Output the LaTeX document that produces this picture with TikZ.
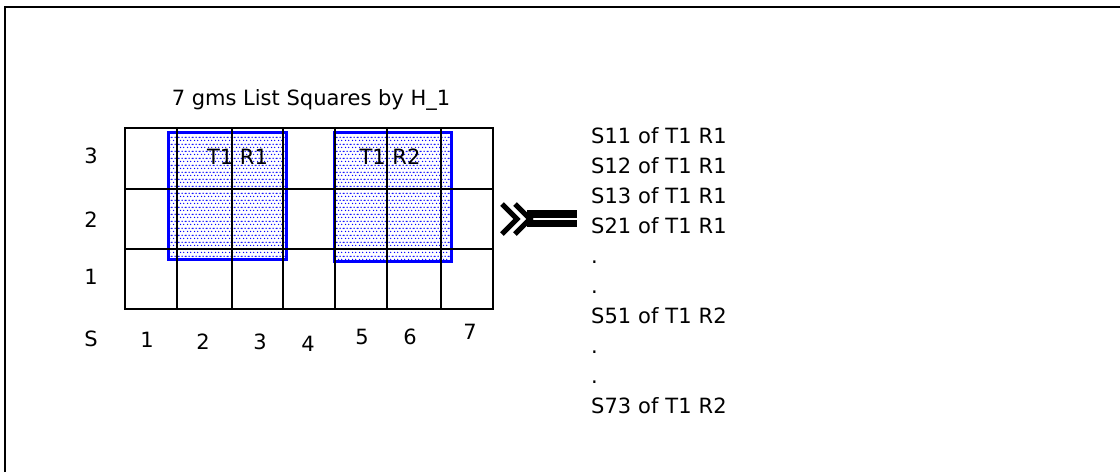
\documentclass[tikz,border=0pt]{standalone}
\usepackage{fontspec}
\setmainfont{DejaVu Sans}
\usetikzlibrary{patterns,positioning}

\pgfdeclarepatternformonly{tiledots}{\pgfpointorigin}{\pgfpoint{6.6pt}{6.6pt}}{\pgfpoint{6.6pt}{6.6pt}}{%
	\pgfpathcircle{\pgfpoint{1.65pt}{1.65pt}}{0.75pt}
	\pgfpathcircle{\pgfpoint{4.95pt}{1.65pt}}{0.75pt}
	\pgfpathcircle{\pgfpoint{0pt}{4.95pt}}{0.75pt}
	\pgfpathcircle{\pgfpoint{3.3pt}{4.95pt}}{0.75pt}
	\pgfpathcircle{\pgfpoint{6.6pt}{4.95pt}}{0.75pt}
	\pgfusepath{fill}}

\begin{document}
\begin{tikzpicture}[x=1pt,y=-1pt,node distance=8.6pt,
		lbl/.style={font=\fontsize{21}{25}\selectfont,inner sep=0pt},
		item/.style={lbl,text width=140pt,align=left,text height=16pt,text depth=5pt},
		tile/.style={draw=blue,line width=3pt,pattern=tiledots,pattern color=blue,inner sep=0pt},
		gridline/.style={line width=1.6pt}]
			\useasboundingbox (0,0) rectangle (1120,472);
			\draw[line width=2pt] (4.5,472) -- (4.5,6.5) -- (1120,6.5);
			% title and the two blocks
			\node[lbl,anchor=base] (title) at (311,105) {7 gms List Squares by H\_1};
			\node[tile,minimum width=118pt,minimum height=127pt] (blk1) at (227,195.5) {};
			\node[tile,minimum width=117pt,minimum height=129pt] (blk2) at (392.5,196.5) {};
			% 7 x 3 grid
			\draw[gridline] (125,128) rectangle (493,309);
			\foreach \x in {177,232,283,335,387,441}
				\draw[gridline] (\x,128) -- (\x,309);
			\foreach \y in {189,249}
				\draw[gridline] (125,\y) -- (493,\y);
			\node[lbl,anchor=base] (t1r1) at (237.5,164.5) {T1 R1};
			\node[lbl,anchor=base] (t1r2) at (390,164.5) {T1 R2};
			% axis labels
			\node[lbl,anchor=base] (row3) at (91,163.5) {3};
			\node[lbl,anchor=base] (row2) at (91,227.5) {2};
			\node[lbl,anchor=base] (row1) at (91,284) {1};
			\node[lbl,anchor=base] (slbl) at (91,346) {S};
			\foreach \x/\y/\n in {147/347.5/1,203/349/2,260/349/3,308/351/4,362/344/5,410/344/6,470/339/7}
				\node[lbl,anchor=base] (col\n) at (\x,\y) {\n};
			% arrow
			\coordinate (arr) at (503,219);
			\draw[line width=5pt] (502,204) -- (517,219) -- (502,234);
			\draw[line width=5pt] (515,204) -- (530,219) -- (515,234);
			\fill (527,210) rectangle (577,217.5);
			\fill (527,219.5) rectangle (577,227);
			% list of squares
			\node[item,anchor=north west] (s11) at (591,127.5) {S11 of T1 R1};
			\node[item] [below=of s11] (s12) {S12 of T1 R1};
			\node[item] [below=of s12] (s13) {S13 of T1 R1};
			\node[item] [below=of s13] (s21) {S21 of T1 R1};
			\node[item] [below=of s21] (gap1) {.};
			\node[item] [below=of gap1] (gap2) {.};
			\node[item] [below=of gap2] (s51) {S51 of T1 R2};
			\node[item] [below=of s51] (gap3) {.};
			\node[item] [below=of gap3] (gap4) {.};
			\node[item] [below=of gap4] (s73) {S73 of T1 R2};
		\end{tikzpicture}
\end{document}
